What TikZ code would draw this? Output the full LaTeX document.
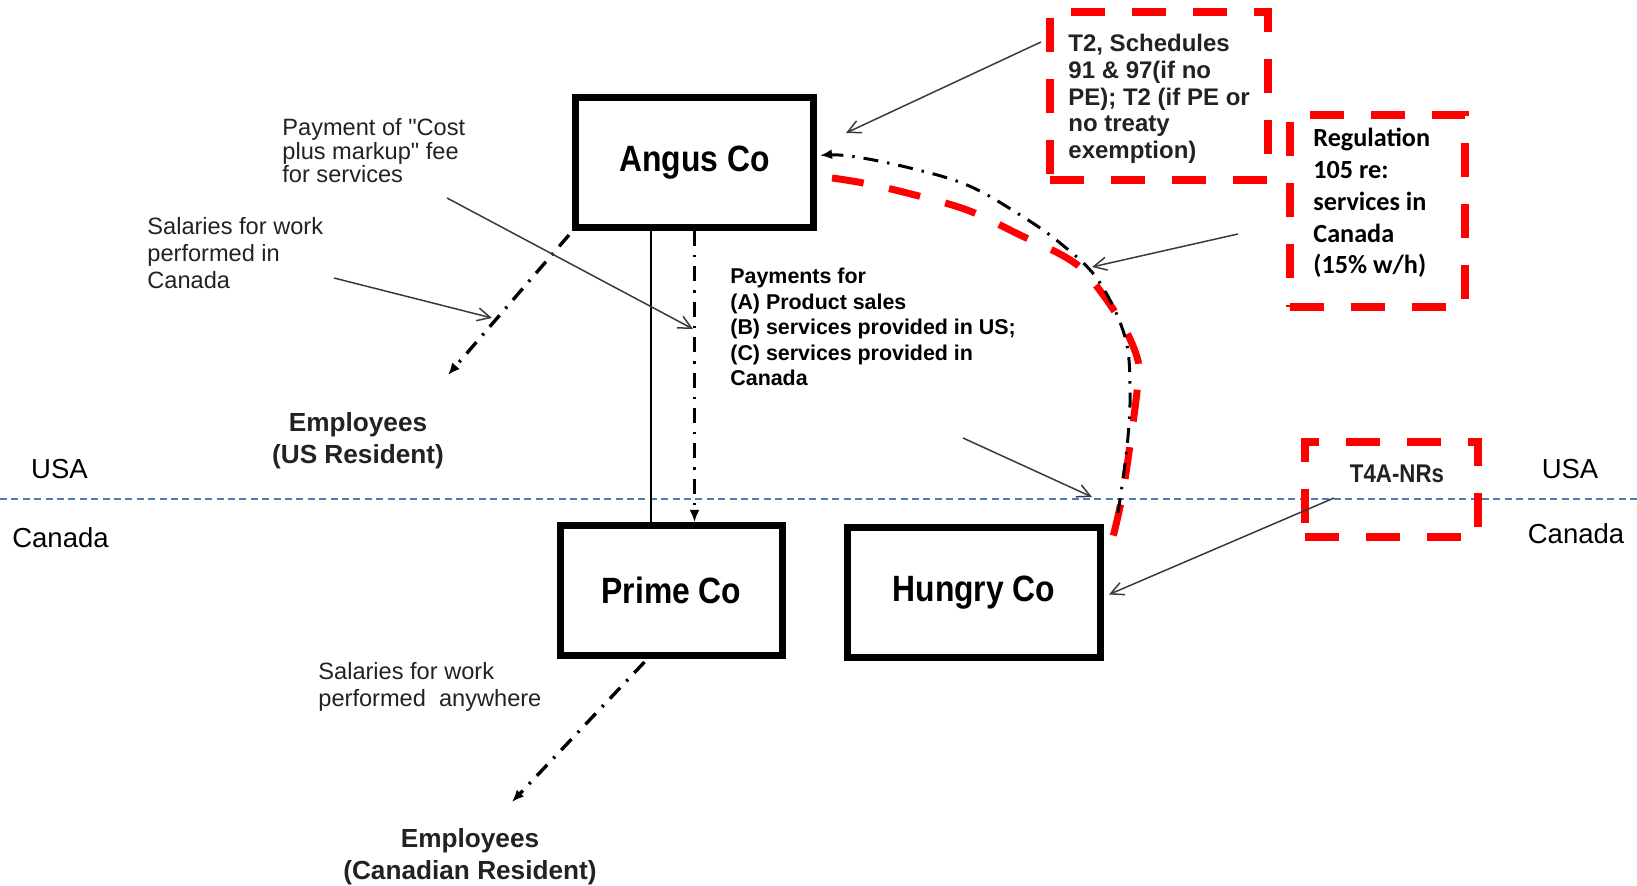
\documentclass[tikz,border=0pt]{standalone}
\usepackage{fontspec}
\setmainfont{Liberation Sans}
\newfontfamily\boxfont[FakeStretch=0.87]{Liberation Sans}
\newfontfamily\calfont{Carlito}
\usetikzlibrary{arrows.meta,calc}
\definecolor{borderblue}{HTML}{4A7EBB}
\definecolor{notered}{HTML}{FF0000}
\definecolor{labelink}{HTML}{222222}
\definecolor{pointer}{HTML}{3A3A3A}

\begin{document}
\begin{tikzpicture}[x=0.5pt,y=-0.5pt,
  entity/.style={draw=black, line width=3.3pt, fill=white, inner sep=0pt,
    minimum height=65.2pt, font=\boxfont\bfseries\fontsize{18.3}{20}\selectfont},
  redbox/.style={draw=notered, line width=4pt, dash pattern=on 17pt off 13.5pt,
    inner sep=0pt},
  note/.style={inner sep=0pt, anchor=west, align=left, text=labelink},
  country/.style={inner sep=0pt, font=\fontsize{13.75}{15}\selectfont},
  pointerline/.style={draw=pointer, line width=0.75pt,
    -{Straight Barb[length=6.5pt,width=6.5pt]}},
  flow/.style={draw=black, line width=1.7pt,
    dash pattern=on 7.5pt off 4.5pt on 1.2pt off 4.5pt,
    -{Latex[length=6pt,width=5pt]}},
  border/.style={draw=borderblue, line width=0.8pt, dash pattern=on 3.5pt off 2.2pt},
  curvered/.style={draw=notered, line width=3.5pt, dash pattern=on 16pt off 13pt}
]
\useasboundingbox (0,0) rectangle (1637,886);

% border between the two countries
\coordinate (bwest) at (0,499);
\coordinate (beast) at (1637,499);
\draw[border] (bwest) -- (beast);

\node[country] (usaw) at (59.5,469) {USA};
\node[country] (canw) at (60.5,538) {Canada};
\node[country] (usae) at (1570,469) {USA};
\node[country] (cane) at (1576,533.5) {Canada};

% companies
\node[entity, minimum width=119.2pt] (angus) at (694.5,162.5) {Angus Co};
\node[entity, minimum width=111.2pt] (prime) at (671.5,590.5) {Prime Co};
\node[entity, minimum width=126.7pt] (hungry) at (974,592.5) {Hungry Co};

% filing boxes
\node[redbox, minimum width=109pt, minimum height=84pt] (t2box) at (1158.5,96) {};
\node[redbox, minimum width=87.5pt, minimum height=96pt] (regbox) at (1377.5,211) {};
\node[redbox, minimum width=86.5pt, minimum height=47.5pt] (t4abox) at (1391.5,489.5) {};

\node[note, font=\bfseries\fontsize{12}{13.3}\selectfont] (t2text) at (1068,99)
  {T2, Schedules\\91 \& 97(if no\\PE); T2 (if PE or\\no treaty\\exemption)};
\node[note, text=black, font=\calfont\bfseries\fontsize{13.1}{15.9}\selectfont] (regtext) at (1313,203)
  {Regulation\\105 re:\\services in\\Canada\\(15\% w/h)};
\node[inner sep=0pt, text=labelink, font=\boxfont\bfseries\fontsize{12.8}{14}\selectfont] (t4atext) at (1397,474) {T4A-NRs};

% labels
\node[note, text=black, font=\bfseries\fontsize{10.7}{12.8}\selectfont] (paytext) at (730,327)
  {Payments for\\(A) Product sales\\(B) services provided in US;\\(C) services provided in\\Canada};
\node[note, font=\fontsize{11.8}{11.75}\selectfont] (feetext) at (282,151)
  {Payment of \textquotedbl Cost\\plus markup\textquotedbl{} fee\\for services};
\node[note, font=\fontsize{11.8}{13.6}\selectfont] (salcan) at (147,253)
  {Salaries for work\\performed in\\Canada};
\node[note, font=\fontsize{11.8}{13.6}\selectfont] (salany) at (318,687)
  {Salaries for work\\performed\ \ anywhere};
\node[inner sep=0pt, align=center, text=labelink, font=\bfseries\fontsize{13.1}{16}\selectfont] (empus) at (358,441)
  {Employees\\(US Resident)};
\node[inner sep=0pt, align=center, text=labelink, font=\bfseries\fontsize{13.1}{16}\selectfont] (empca) at (470,857)
  {Employees\\(Canadian Resident)};

% flows between the companies
\coordinate (solidtop) at ($(angus.south)+(-43.5,0)$);
\draw[line width=1pt] (solidtop) -- (solidtop |- prime.north);
\draw[flow] (angus.south) -- (angus.south |- prime.north);

\coordinate (usemptip) at (448,375);
\draw[flow] ($(angus.south west)+(-3,4)$) -- (usemptip);
\coordinate (caemptip) at (512,802);
\draw[flow] ($(prime.south)+(-27,3)$) -- (caemptip);

% Hungry Co pays Angus Co
\coordinate (dcstart) at ($(hungry.north east)+(14,-11)$);
\coordinate (dcend) at ($(angus.east)+(3,-7)$);
\coordinate (redstart) at ($(angus.east)+(15,15.5)$);
\coordinate (redend) at ($(hungry.north east)+(4,33)$);
\draw[curvered] plot[smooth, tension=0.6] coordinates {(redstart) (863,183) (907,193) (967,210)
  (1020,235) (1067,258) (1090,278) (1120,320) (1137,357) (1138,380) (1133,423) (1122,497) (redend)};
\draw[flow, line width=1.5pt] plot[smooth, tension=0.6] coordinates {(dcstart) (1127,447) (1130,393)
  (1125,337) (1098,280) (1060,243) (1017,213) (967,185) (910,168) (850,156) (dcend)};

% pointers from the notes
\coordinate (t2tail) at (1041,42);
\coordinate (t2tip) at (846,133);
\draw[pointerline] (t2tail) -- (t2tip);
\coordinate (regtail) at (1238,234);
\coordinate (regtip) at (1092,267);
\draw[pointerline] (regtail) -- (regtip);
\coordinate (paytail) at (963,438);
\coordinate (paytip) at (1092,497);
\draw[pointerline] (paytail) -- (paytip);
\coordinate (t4atail) at (1334,498);
\draw[pointerline] (t4atail) -- ($(hungry.east)+(5,2)$);
\coordinate (feetail) at (447,198);
\coordinate (feetip) at (693,329);
\draw[pointerline] (feetail) -- (feetip);
\coordinate (saltail) at (334,278);
\coordinate (saltip) at (492,318);
\draw[pointerline] (saltail) -- (saltip);
\end{tikzpicture}
\end{document}
